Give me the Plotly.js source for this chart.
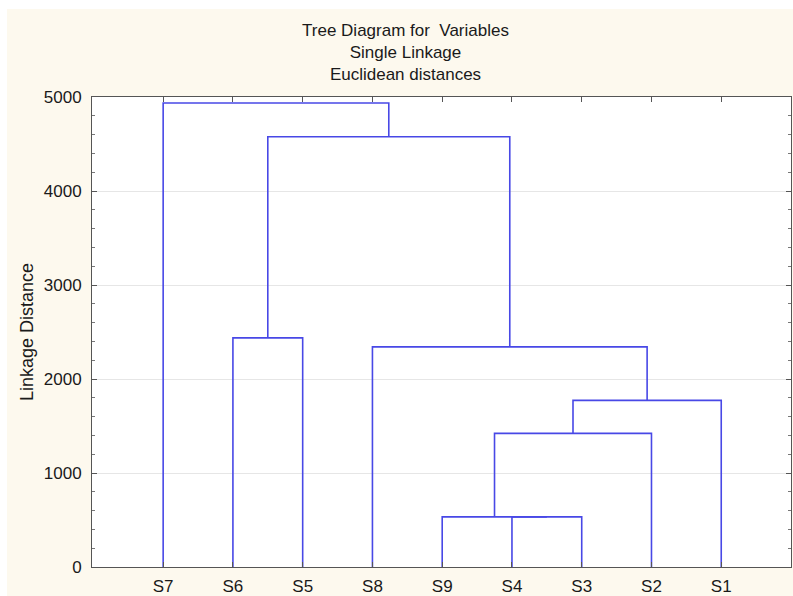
<!DOCTYPE html>
<html>
<head>
<meta charset="utf-8">
<script src="https://cdn.plot.ly/plotly-3.0.1.min.js"></script>
<style>
  html, body { margin: 0; padding: 0; background: #ffffff; width: 793px; height: 596px; overflow: hidden; }
  #chart { position: absolute; left: 7px; top: 9px; width: 786px; height: 587px; }
</style>
</head>
<body>
<div id="chart"></div>
<script>
// Leaves in display order
const leaves = ['S7', 'S6', 'S5', 'S8', 'S9', 'S4', 'S3', 'S2', 'S1'];
// Linkage steps: cluster ids 0..8 are leaves, each merge creates id 9, 10, ...
const mergeLeft   = [5, 4, 10, 11, 3, 1, 14, 0];
const mergeRight  = [6, 9, 7, 8, 12, 2, 13, 15];
const mergeHeight = [533, 533, 1422, 1773, 2342, 2438, 4577, 4936];

// Build dendrogram line segments from the linkage
const nodeX = leaves.map((_, i) => i);
const nodeH = leaves.map(() => 0);
const xs = [], ys = [];
for (let k = 0; k < mergeLeft.length; k++) {
  const a = mergeLeft[k], b = mergeRight[k], h = mergeHeight[k];
  xs.push(nodeX[a], nodeX[a], nodeX[b], nodeX[b], null);
  ys.push(nodeH[a], h, h, nodeH[b], null);
  nodeX.push((nodeX[a] + nodeX[b]) / 2);
  nodeH.push(h);
}

const font = 'Arial, "Liberation Sans", sans-serif';
const trace = {
  x: xs, y: ys, type: 'scatter', mode: 'lines',
  line: { color: '#4848e6', width: 1.6 },
  hoverinfo: 'skip', showlegend: false, connectgaps: false
};

const layout = {
  width: 786, height: 587,
  paper_bgcolor: '#fdf9ee',
  plot_bgcolor: '#ffffff',
  margin: { l: 85, r: 2, t: 88, b: 29 },
  font: { family: font, size: 17, color: '#1a1a1a' },
  title: {
    text: 'Tree Diagram for  Variables<br>Single Linkage<br>Euclidean distances',
    font: { family: font, size: 17, color: '#1a1a1a' },
    x: 0.507, xref: 'container', xanchor: 'center',
    y: 0.9535, yref: 'container', yanchor: 'top'
  },
  xaxis: {
    range: [-1.02, 9.0],
    tickmode: 'array',
    tickvals: leaves.map((_, i) => i),
    ticktext: leaves,
    ticks: 'inside', ticklen: 5, tickcolor: '#555555',
    showgrid: false, zeroline: false,
    showline: true, linecolor: '#555555', linewidth: 1, mirror: 'allticks',
    ticklabelstandoff: 4,
    tickfont: { family: font, size: 17, color: '#1a1a1a' }
  },
  yaxis: {
    range: [0, 5000],
    tickmode: 'linear', tick0: 0, dtick: 1000,
    ticks: 'inside', ticklen: 5, tickcolor: '#555555',
    minor: { dtick: 200, ticks: 'inside', ticklen: 3, tickcolor: '#777777', showgrid: false },
    showgrid: true, gridcolor: '#e6e6e6', gridwidth: 1,
    zeroline: false,
    showline: true, linecolor: '#555555', linewidth: 1, mirror: 'allticks',
    ticklabelstandoff: 6,
    tickfont: { family: font, size: 17, color: '#1a1a1a' },
    title: { text: 'Linkage Distance', font: { family: font, size: 18, color: '#1a1a1a' }, standoff: 5 }
  }
};

Plotly.newPlot('chart', [trace], layout, { displayModeBar: false, staticPlot: true });
</script>
</body>
</html>
